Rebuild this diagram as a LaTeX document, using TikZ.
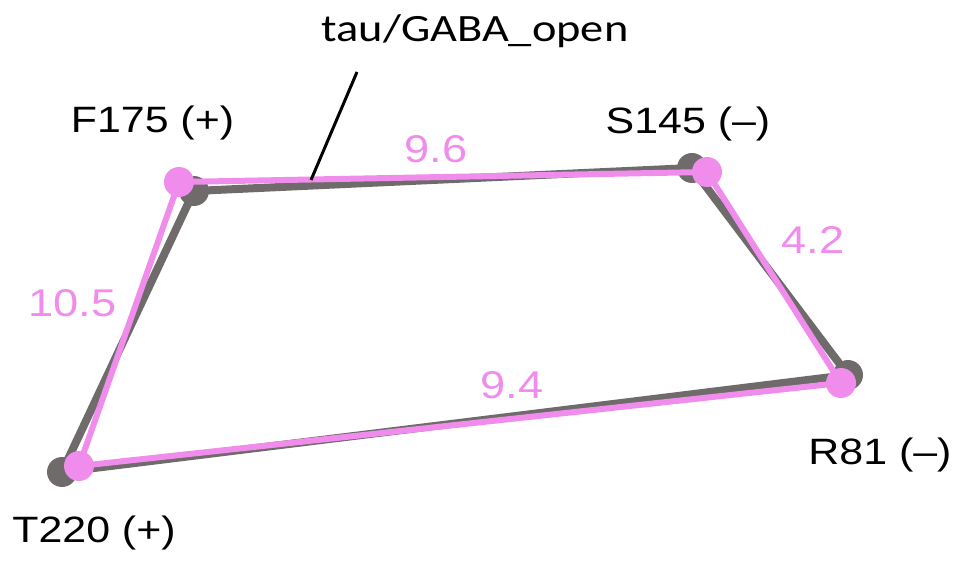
\documentclass[tikz,border=0pt]{standalone}
\usepackage{graphicx}
\usepackage{fontspec}
\setmainfont{Liberation Sans}
\newfontfamily\calfont{Carlito}
\definecolor{gline}{HTML}{6F6B6B}
\definecolor{pline}{HTML}{F08CEB}
\tikzset{
  gedge/.style={draw=gline, line width=6pt},
  pedge/.style={draw=pline, line width=4.5pt},
  gdot/.style={circle, fill=gline, minimum size=22.5pt, inner sep=0pt},
  pdot/.style={circle, fill=pline, minimum size=22.5pt, inner sep=0pt},
  lbl/.style={anchor=base, inner sep=0pt, font=\fontsize{27.5}{33}\selectfont},
  num/.style={anchor=base, inner sep=0pt, text=pline, font=\fontsize{29}{35}\selectfont},
}
\newcommand{\hs}[1]{\scalebox{1.17}[1]{#1}}
\begin{document}
\begin{tikzpicture}[x=0.75pt, y=-0.75pt]
\useasboundingbox (0,0) rectangle (958,563);
% gray quad
\coordinate (gF) at (194,191);
\coordinate (gS) at (692,168);
\coordinate (gR) at (848,375);
\coordinate (gT) at (62,472);
% pink quad
\coordinate (pF) at (179,182);
\coordinate (pS) at (707,172);
\coordinate (pR) at (841,383);
\coordinate (pT) at (79,466);
\draw[gedge] (gF) -- (gS) -- (gR) -- (gT) -- cycle;
\node[gdot] (ngF) at (gF) {};
\node[gdot] (ngS) at (gS) {};
\node[gdot] (ngR) at (gR) {};
\node[gdot] (ngT) at (gT) {};
\draw[pedge] (pF) -- (pS) -- (pR) -- (pT) -- cycle;
\node[pdot] (npF) at (pF) {};
\node[pdot] (npS) at (pS) {};
\node[pdot] (npR) at (pR) {};
\node[pdot] (npT) at (pT) {};
% title and pointer
\node[anchor=base, inner sep=0pt, font=\calfont\fontsize{29}{35}\selectfont] (title) at (475,42) {\scalebox{1.2}[1]{tau/GABA\_open}};
\coordinate (ptop) at (357,72);
\coordinate (pbot) at (311,180);
\draw[black, line width=2.25pt] (ptop) -- (pbot);
% vertex labels
\node[lbl] (lF) at (152.5,133) {\hs{F175 (+)}};
\node[lbl] (lS) at (688,134) {\hs{S145 (–)}};
\node[lbl] (lR) at (880,464) {\hs{R81 (–)}};
\node[lbl] (lT) at (94,542) {\hs{T220 (+)}};
% distances
\node[num] (d1) at (72.5,317) {\hs{10.5}};
\node[num] (d2) at (813,254) {\hs{4.2}};
\node[num] (d3) at (436,163) {\hs{9.6}};
\node[num] (d4) at (512,398) {\hs{9.4}};
\end{tikzpicture}
\end{document}
